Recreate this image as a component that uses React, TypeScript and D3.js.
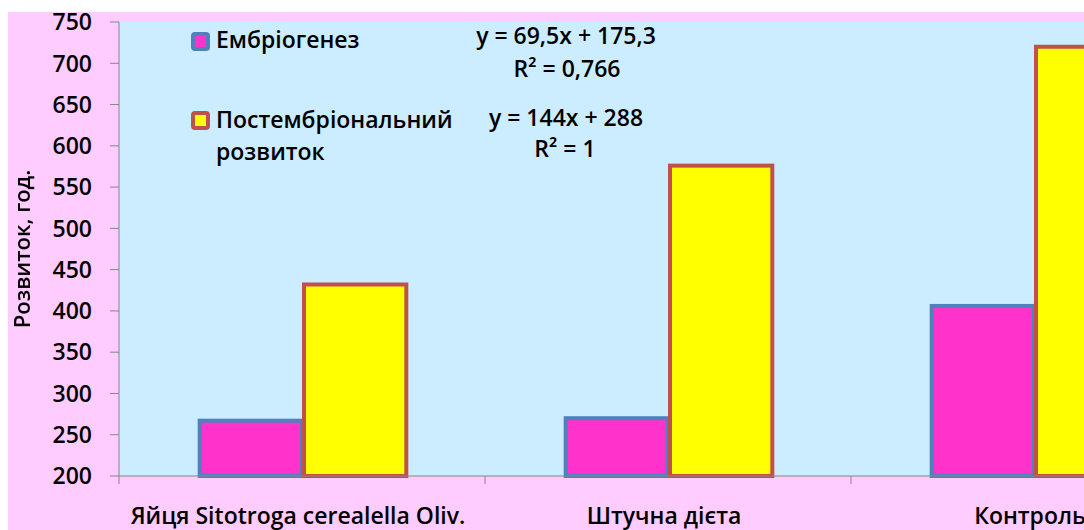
import React from "react";
import * as d3 from "d3";

const categories = ["Яйця Sitotroga cerealella Oliv.", "Штучна дієта", "Контроль"];
const embryo = [267, 270, 406];
const postEmbryo = [432, 576, 720];
const seriesNames = ["Ембріогенез", "Постембріональний", "розвиток"];
const yTicks = [200, 250, 300, 350, 400, 450, 500, 550, 600, 650, 700, 750];
const equations = [
  ["y = 69,5x + 175,3", "R² = 0,766"],
  ["y = 144x + 288", "R² = 1"],
];

const W = 1084;
const H = 530;
const plotLeft = 119;
const plotTop = 22;
const plotBottom = 476;
const step = 366;

const FONT = "'Open Sans', Lato, sans-serif";
const FS = 23;

export default function App() {
  const x = d3
    .scaleBand<string>()
    .domain(categories)
    .range([plotLeft, plotLeft + step * categories.length])
    .paddingInner(0.43)
    .paddingOuter(0.215);
  const xs = d3.scaleBand<string>().domain(["e", "p"]).range([0, x.bandwidth()]);
  const y = d3.scaleLinear().domain([200, 750]).range([plotBottom, plotTop]);

  const series = [
    { key: "e", values: embryo, fill: "#FF33CC", stroke: "#4F81BD" },
    { key: "p", values: postEmbryo, fill: "#FFFF00", stroke: "#C0504D" },
  ];

  return (
    <svg
      width={W}
      height={H}
      style={{ position: "fixed", left: 0, top: 0, display: "block" }}
      fontFamily={FONT}
      fontWeight={600}
    >
      <rect x={0} y={0} width={W} height={H} fill="#FFFFFF" />
      <rect x={8} y={12} width={W} height={H} fill="#FFCCFF" />
      <rect x={plotLeft} y={plotTop} width={W - plotLeft} height={plotBottom - plotTop} fill="#CCECFF" />

      {series.map((s) =>
        categories.map((c, i) => {
          const bx = (x(c) ?? 0) + (xs(s.key) ?? 0) + 2;
          const by = y(s.values[i]);
          return (
            <rect
              key={s.key + i}
              x={bx}
              y={by}
              width={xs.bandwidth() - 2}
              height={plotBottom - by}
              fill={s.fill}
              stroke={s.stroke}
              strokeWidth={4}
            />
          );
        })
      )}

      {/* y axis */}
      <line x1={plotLeft} x2={plotLeft} y1={plotTop} y2={plotBottom} stroke="#868686" strokeWidth={1} />
      {yTicks.map((t) => (
        <g key={t}>
          <line x1={110} x2={plotLeft} y1={y(t)} y2={y(t)} stroke="#868686" strokeWidth={1} />
          <text x={92} y={y(t)} dy="0.36em" textAnchor="end" fontSize={FS} fill="#000">
            {t}
          </text>
        </g>
      ))}
      <text
        transform={`translate(30,${(plotTop + plotBottom) / 2}) rotate(-90)`}
        textAnchor="middle"
        fontSize={22}
        fill="#000"
      >
        Розвиток, год.
      </text>

      {/* x axis */}
      <line x1={plotLeft} x2={W} y1={plotBottom} y2={plotBottom} stroke="#868686" strokeWidth={1} />
      {categories.map((c, i) => (
        <line
          key={"t" + i}
          x1={plotLeft + step * i}
          x2={plotLeft + step * i}
          y1={plotBottom}
          y2={plotBottom + 8}
          stroke="#868686"
          strokeWidth={1}
        />
      ))}
      {categories.map((c) => (
        <text key={c} x={(x(c) ?? 0) + x.bandwidth() / 2 - 4} y={524} textAnchor="middle" fontSize={FS} fill="#000">
          {c}
        </text>
      ))}

      {/* legend */}
      <rect x={193} y={34} width={15} height={15} rx={2} fill="#FF33CC" stroke="#4F81BD" strokeWidth={4} />
      <text x={216} y={48} fontSize={FS} fill="#000">
        {seriesNames[0]}
      </text>
      <rect x={193} y={113} width={15} height={15} rx={2} fill="#FFFF00" stroke="#C0504D" strokeWidth={4} />
      <text x={216} y={128} fontSize={FS} fill="#000">
        {seriesNames[1]}
      </text>
      <text x={216} y={160} fontSize={FS} fill="#000">
        {seriesNames[2]}
      </text>

      {/* equations */}
      <text x={566} y={44} textAnchor="middle" fontSize={FS} fill="#000">
        {equations[0][0]}
      </text>
      <text x={567} y={77} textAnchor="middle" fontSize={FS} fill="#000">
        {equations[0][1]}
      </text>
      <text x={566} y={126} textAnchor="middle" fontSize={FS} fill="#000">
        {equations[1][0]}
      </text>
      <text x={565} y={157} textAnchor="middle" fontSize={FS} fill="#000">
        {equations[1][1]}
      </text>
    </svg>
  );
}
